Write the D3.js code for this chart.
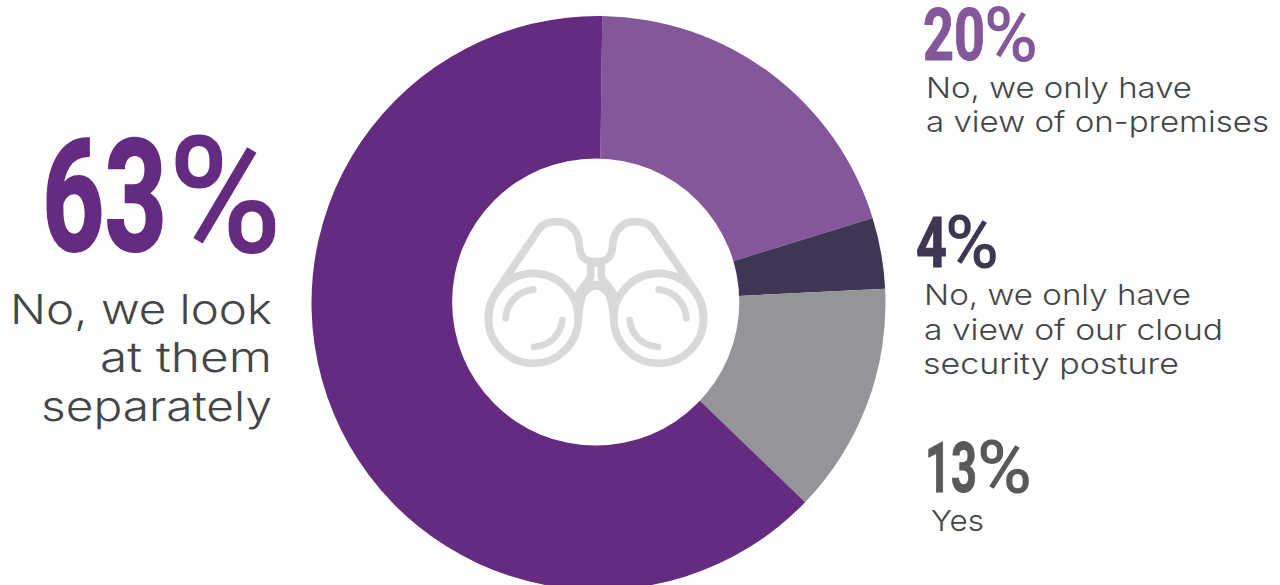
<!DOCTYPE html>
<html>
<head>
<meta charset="utf-8">
<script src="https://cdn.jsdelivr.net/npm/d3@7"></script>
<style>
html,body{margin:0;padding:0;background:#fff;overflow:hidden}
svg{display:block}
</style>
</head>
<body>
<svg id="chart" width="1280" height="585"></svg>
<script>
// Survey answers, in clockwise order from twelve o'clock
const categories = ["No, we only have a view of on-premises", "No, we only have a view of our cloud security posture", "Yes", "No, we look at them separately"];
const values = [20, 4, 13, 63];
const colors = ["#83579a", "#3f3653", "#939598", "#652b81"];
const captionLines = [
  ["No, we only have", "a view of on-premises"],
  ["No, we only have", "a view of our cloud", "security posture"],
  ["Yes"],
  ["No, we look", "at them", "separately"]
];

const svg = d3.select("#chart");

// Ring
const cx = 598.5, cy = 303, outerR = 287;
const pie = d3.pie().sort(null).value(d => d)
  .startAngle(0.75 * Math.PI / 180)
  .endAngle(360.75 * Math.PI / 180);
const arc = d3.arc().innerRadius(0).outerRadius(outerR);

svg.append("g").attr("transform", `translate(${cx},${cy})`)
  .selectAll("path").data(pie(values)).join("path")
  .attr("d", arc)
  .attr("fill", (d, i) => colors[i]);

// Hole, sitting slightly left of the ring's centre
svg.append("circle").attr("cx", 595.7).attr("cy", 302).attr("r", 143.6).attr("fill", "#fff");

// Binoculars icon, drawn once per side and mirrored about the axis
const icon = svg.append("g").attr("transform", "translate(440,180) scale(0.3333)")
  .attr("fill", "none").attr("stroke", "#d9d9d9").attr("stroke-width", 23)
  .attr("stroke-linecap", "round").attr("stroke-linejoin", "round");

function half(g) {
  g.append("circle").attr("cx", 280).attr("cy", 415).attr("r", 135);
  g.append("path").attr("d",
    "M146,415 C146,375 160,350 178,322 L298,146 C312,128 330,125 352,125 " +
    "C390,125 416,155 418,195 C420,225 428,245 468,245");
  g.append("path").attr("d", "M415,342 L452,292 L452,245");
  g.append("path").attr("d", "M415,415 C418,385 420,345 440,330 C450,320 458,318 468,318");
  g.append("path").attr("d", "M197,415 C200,370 230,335 280,329").attr("stroke-width", 20);
  g.append("path").attr("d", "M367,420 C362,465 330,498 282,501").attr("stroke-width", 20);
}
half(icon.append("g"));
half(icon.append("g").attr("transform", "translate(936,0) scale(-1,1)"));
icon.append("path").attr("d", "M452,250 L452,312 M484,250 L484,312 M452,252 L484,252 M452,310 L484,310").attr("stroke-width", 16);

// Text placement for each answer: figure, then its caption
const figureStyle = [
  { digits: [923, 62], pct: [984, 54], base: 60, size: 72, heft: 1, fill: colors[0] },
  { digits: [916, 31], pct: [945, 54], base: 267, size: 71, heft: 1, fill: colors[1] },
  { digits: [925, 52], pct: [977, 55], base: 492, size: 71, heft: 1, fill: "#58595b" },
  { digits: [42, 125], pct: [168, 114], base: 250, size: 156, heft: 2.2, fill: colors[3] }
];
const captionStyle = [
  { anchor: "start", size: 29, rows: [[926, 98, 266], [926, 132, 343]] },
  { anchor: "start", size: 29, rows: [[924, 305, 267], [924, 340, 299], [923, 374, 256]] },
  { anchor: "start", size: 29, rows: [[931, 531, 53]] },
  { anchor: "end", size: 41, rows: [[272, 324, 262], [272, 372, 172], [272, 421, 231]] }
];

values.forEach((v, i) => {
  const f = figureStyle[i];
  svg.append("text").text(v)
    .attr("x", f.digits[0]).attr("y", f.base)
    .attr("font-family", "Liberation Sans Narrow, Roboto").attr("font-weight", 700).attr("font-size", f.size)
    .attr("fill", f.fill).attr("stroke", f.fill).attr("stroke-width", f.heft)
    .attr("textLength", f.digits[1]).attr("lengthAdjust", "spacingAndGlyphs");
  svg.append("text").text("%")
    .attr("x", f.pct[0]).attr("y", f.base + f.size * 0.01)
    .attr("font-family", "Roboto").attr("font-weight", 500).attr("font-size", f.size * 1.05)
    .attr("fill", f.fill)
    .attr("textLength", f.pct[1]).attr("lengthAdjust", "spacingAndGlyphs");

  const c = captionStyle[i];
  captionLines[i].forEach((line, j) => {
    const [x, y, w] = c.rows[j];
    svg.append("text").text(line)
      .attr("x", x).attr("y", y)
      .attr("text-anchor", c.anchor)
      .attr("font-family", "Inter").attr("font-weight", 300).attr("font-size", c.size)
      .attr("fill", "#444547")
      .attr("textLength", w).attr("lengthAdjust", "spacingAndGlyphs");
  });
});
</script>
</body>
</html>
